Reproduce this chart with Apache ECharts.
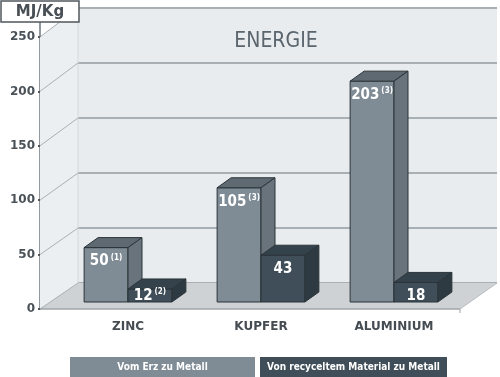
<!DOCTYPE html>
<html>
<head>
<meta charset="utf-8">
<script src="https://cdn.jsdelivr.net/npm/echarts@6/dist/echarts.min.js"></script>
<style>
html,body{margin:0;padding:0;background:#fff;}
#chart{width:500px;height:377px;}
</style>
</head>
<body>
<div id="chart"></div>
<script>
const categories = ['ZINC', 'KUPFER', 'ALUMINIUM']
const oreValues = [50, 105, 203]
const oreNotes = ['(1)', '(3)', '(3)']
const recycledValues = [12, 43, 18]
const recycledNotes = ['(2)', '', '']
const seriesNames = ['Vom Erz zu Metall', 'Von recyceltem Material zu Metall']
const yMax = 250

const NARROW = "'Liberation Sans Narrow', 'DejaVu Sans Condensed', 'Roboto', sans-serif"
const DX = 14, DY = -10 // Tiefe der Balken

const oreColors = {front: '#7f8b95', top: '#5e6972', side: '#68737b'}
const recColors = {front: '#3f4e58', top: '#34424b', side: '#2d3a42'}

function barRenderer(left, colors, notes){
	return function(params, api){
		const i = api.value(0)
		const v = api.value(1)
		const base = api.coord([i, 0])
		const top = api.coord([i, v])
		const w = api.size([1, 0])[0] * 0.33
		const x0 = left ? base[0] - w : base[0]
		const ty = top[1], by = base[1]
		const stroke = '#2b3439'
		const note = notes[params.dataIndex]
		const ly = Math.min(ty + 14, by - 6)
		return {
			type: 'group',
			children: [
				{type: 'rect', shape: {x: x0, y: ty, width: w, height: by - ty},
					style: {fill: colors.front, stroke: stroke, lineWidth: 1}},
				{type: 'polygon', shape: {points: [[x0, ty], [x0 + DX, ty + DY], [x0 + w + DX, ty + DY], [x0 + w, ty]]},
					style: {fill: colors.top, stroke: stroke, lineWidth: 1}},
				{type: 'polygon', shape: {points: [[x0 + w, ty], [x0 + w + DX, ty + DY], [x0 + w + DX, by + DY], [x0 + w, by]]},
					style: {fill: colors.side, stroke: stroke, lineWidth: 1}},
				{type: 'text', x: x0 + w / 2, y: ly,
					style: {
						text: '{v|' + v + '}' + (note ? '{n|' + note + '}' : ''),
						align: 'center', verticalAlign: 'middle',
						rich: {
							v: {fill: '#fff', fontSize: 15, fontWeight: 'bold', fontFamily: NARROW},
							n: {fill: '#fff', fontSize: 8, fontWeight: 'bold', fontFamily: NARROW, verticalAlign: 'top', padding: [0, 0, 8, 2]}
						}
					}}
			]
		}
	}
}

const chart = echarts.init(document.getElementById('chart'))

chart.setOption({
	animation: false,
	backgroundColor: '#fff',
	title: {
		text: 'ENERGIE', left: 271, top: 26, textAlign: 'center',
		textStyle: {color: '#5a656d', fontSize: 21, fontWeight: 'normal', fontFamily: NARROW}
	},
	grid: [
		{left: 78, right: 3, top: 8, bottom: 94, show: true, backgroundColor: '#e9ecee', borderWidth: 0},
		{left: 61.5, right: 39.5, top: 30, bottom: 75},
		{left: 40, width: 1, top: 37, bottom: 68}
	],
	xAxis: [
		{gridIndex: 0, type: 'value', show: false},
		{gridIndex: 1, type: 'category', data: categories,
			axisLine: {show: false}, axisTick: {show: false},
			axisLabel: {margin: 19, color: '#454c52', fontSize: 12, fontWeight: 'bold', fontFamily: 'DejaVu Sans'}},
		{gridIndex: 2, type: 'value', show: false}
	],
	yAxis: [
		{gridIndex: 0, min: 0, max: yMax, interval: 50,
			axisLine: {show: false}, axisTick: {show: false}, axisLabel: {show: false},
			splitLine: {lineStyle: {color: '#a9b0b5', width: 2}}},
		{gridIndex: 1, min: 0, max: yMax, show: false},
		{gridIndex: 2, min: 0, max: yMax, interval: 50,
			axisLine: {show: true, lineStyle: {color: '#6f767b', width: 1.5}},
			axisTick: {show: true, length: 2, lineStyle: {color: '#555', width: 2}},
			axisLabel: {margin: 5, color: '#4a5258', fontSize: 12, fontWeight: 'bold', fontFamily: 'DejaVu Sans'},
			splitLine: {show: false}}
	],
	series: [
		{name: seriesNames[0], type: 'custom', xAxisIndex: 1, yAxisIndex: 1, z: 5,
			renderItem: barRenderer(true, oreColors, oreNotes),
			data: oreValues.map((v, i) => [i, v])},
		{name: seriesNames[1], type: 'custom', xAxisIndex: 1, yAxisIndex: 1, z: 6,
			renderItem: barRenderer(false, recColors, recycledNotes),
			data: recycledValues.map((v, i) => [i, v])}
	]
})

// Hintergrund (Seitenwand, Boden, Diagonalen) aus den Achsen berechnen
const yF = v => chart.convertToPixel({yAxisIndex: 2}, v)
const yB = v => chart.convertToPixel({yAxisIndex: 0}, v)
const xF = 40, xB = 78, xBR = 497, xFR = 460
const ticks = [0, 50, 100, 150, 200, 250]
const g = []
g.push({type: 'polygon', z: 1, shape: {points: [[xF, yF(yMax)], [xB, yB(yMax)], [xB, yB(0)], [xF, yF(0)]]},
	style: {fill: '#eceff1'}})
g.push({type: 'line', z: 1, shape: {x1: xB, y1: yB(yMax), x2: xB, y2: yB(0)}, style: {stroke: '#d3d7da', lineWidth: 1}})
g.push({type: 'polygon', z: 2, shape: {points: [[xF, yF(0)], [xB, yB(0)], [xBR, yB(0)], [xFR, yF(0)]]},
	style: {fill: '#cfd2d4'}})
ticks.forEach(t => {
	g.push({type: 'line', z: 2, shape: {x1: xF, y1: yF(t), x2: xB, y2: yB(t)}, style: {stroke: '#a9b0b5', lineWidth: 1}})
})
g.push({type: 'line', z: 2, shape: {x1: xF, y1: yF(0), x2: xFR, y2: yF(0)}, style: {stroke: '#9ea4a8', lineWidth: 1.5}})
g.push({type: 'line', z: 2, shape: {x1: xFR, y1: yF(0), x2: xBR, y2: yB(0)}, style: {stroke: '#b8bdc0', lineWidth: 1}})
g.push({type: 'line', z: 2, shape: {x1: xFR, y1: yF(0), x2: xFR, y2: yF(0) + 4}, style: {stroke: '#9ea4a8', lineWidth: 1}})
// Einheit
g.push({type: 'line', z: 3, shape: {x1: xF, y1: 22, x2: xF, y2: yF(yMax)}, style: {stroke: '#6f767b', lineWidth: 1.5}})
g.push({type: 'rect', z: 4, shape: {x: 1, y: 1, width: 78, height: 21},
	style: {fill: '#fff', stroke: '#50575c', lineWidth: 1.5}})
g.push({type: 'text', z: 5, x: 40, y: 12,
	style: {text: 'MJ/Kg', align: 'center', verticalAlign: 'middle', fill: '#484f55', fontSize: 15, fontWeight: 'bold', fontFamily: 'DejaVu Sans'}})
// Legende
const legends = [
	{x: 70, w: 185, color: oreColors.front},
	{x: 260, w: 187, color: recColors.front}
]
legends.forEach((l, i) => {
	g.push({type: 'rect', z: 4, shape: {x: l.x, y: 357, width: l.w, height: 20}, style: {fill: l.color}})
	g.push({type: 'text', z: 5, x: l.x + l.w / 2, y: 367,
		style: {text: seriesNames[i], align: 'center', verticalAlign: 'middle', fill: '#fff', fontSize: 10, fontWeight: 'bold', fontFamily: NARROW}})
})
chart.setOption({graphic: g})
</script>
</body>
</html>
